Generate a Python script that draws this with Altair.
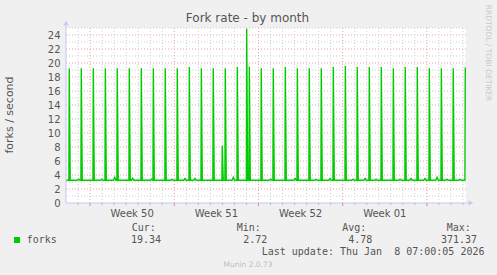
import altair as alt
import pandas as pd

# ---------------- data ----------------
chart_title = "Fork rate - by month"
y_title = "forks / second"
watermark = "RRDTOOL / TOBI OETIKER"
footer = "Munin 2.0.73"
last_update = "Last update: Thu Jan\u00a0\u00a08 07:00:05 2026"

series_name = "forks"
stat_labels = ["Cur:", "Min:", "Avg:", "Max:"]
stat_values = ["19.34", "2.72", "4.78", "371.37"]

# x axis in days since Mon 2025-12-08 00:00 (start of ISO week 50)
x_domain = [-2.0, 31.25]
week_labels = ["Week 50", "Week 51", "Week 52", "Week 01"]
week_label_days = [3.5, 10.5, 17.5, 24.5]
week_start_days = [0, 7, 14, 21, 28]
day_line_days = [-1, 1, 2, 3, 4, 5, 6, 8, 9, 10, 11, 12, 13, 15, 16, 17, 18, 19, 20,
                 22, 23, 24, 25, 26, 27, 29, 30, 31]

y_domain = [0, 25]
y_major = [0, 2, 4, 6, 8, 10, 12, 14, 16, 18, 20, 22, 24]
y_minor = [1, 3, 5, 7, 9, 11, 13, 15, 17, 19, 21, 23, 25]

base_level = 3.25

# daily cron spikes (day offset, forks/s)
spike_days = [-1.73, -0.73, 0.27, 1.27, 2.26, 3.26, 4.26, 5.26, 6.25, 7.25, 8.25, 9.25,
              10.24, 11.24, 12.24, 13.24, 14.23, 15.23, 16.23, 17.23, 18.22, 19.22,
              20.22, 21.22, 22.21, 23.21, 24.21, 25.21, 26.20, 27.20, 28.20, 29.20,
              30.19, 31.19]
spike_values = [19.24, 19.24, 19.24, 19.24, 19.24, 19.24, 19.24, 19.24, 19.24, 19.24,
                19.43, 19.24, 19.24, 19.24, 19.43, 19.47, 19.24, 19.24, 19.43, 19.24,
                19.24, 19.24, 19.43, 19.57, 19.43, 19.43, 19.43, 19.24, 19.43, 19.43,
                19.24, 19.24, 19.24, 19.34]
# irregular extra spikes
extra_days = [10.99, 13.02]
extra_values = [8.19, 24.9]
# small bumps on the baseline
bump_days = [-0.94, 0.97, 2.05, 3.54, 5.12, 6.81, 7.89, 8.72, 11.91, 15.02, 17.04,
             18.78, 19.95, 21.86, 22.86, 23.77, 25.77, 26.68, 27.84, 28.84, 29.67, 30.75]
bump_values = [3.4, 3.4, 3.67, 3.52, 3.4, 3.4, 3.5, 3.5, 3.67, 3.4, 3.5,
               3.4, 3.5, 3.4, 3.5, 3.4, 3.4, 3.5, 3.5, 3.67, 3.4, 3.4]

# ---------------- build line table ----------------
events = []
for d, v in zip(spike_days, spike_values):
    events.append((d, v, "spike"))
for d, v in zip(extra_days, extra_values):
    events.append((d, v, "spike"))
for d, v in zip(bump_days, bump_values):
    events.append((d, v, "bump"))
events.sort()
last_day = max(spike_days)
pts = [(x_domain[0], base_level)]
for d, v, kind in events:
    if kind == "spike":
        pts.append((d - 0.03, base_level))
        pts.append((d, v))
        if d != last_day:
            pts.append((d + 0.08, base_level))
    else:
        pts.append((d - 0.1, base_level))
        pts.append((d, v))
        pts.append((d + 0.1, base_level))
line_df = pd.DataFrame(pts, columns=["day", "rate"])

# ---------------- styling ----------------
W, H = 400, 175
BG = "#f0f0f0"
TXT = "#555555"
GREEN = "#00cc00"
MAJ = "#eba3a3"
MIN = "#d0d0d0"
AXC = "#c5c9f3"
SANS = "DejaVu Sans"
MONO = "DejaVu Sans Mono"

xs = alt.Scale(domain=x_domain, nice=False, zero=False)
ys = alt.Scale(domain=y_domain, nice=False)
y_axis = alt.Axis(values=y_major, grid=False, ticks=False, tickSize=0, domain=False,
                  labelFont=SANS, labelFontSize=10, labelColor=TXT, labelPadding=6,
                  title=None)

def X(field):
    return alt.X(field, type="quantitative", scale=xs, axis=None)

def Y(field):
    return alt.Y(field, type="quantitative", scale=ys, axis=y_axis)

minor_h = alt.Chart(pd.DataFrame({"v": y_minor})).mark_rule(
    color=MIN, strokeDash=[1, 2], strokeWidth=1).encode(y=Y("v"))
major_h = alt.Chart(pd.DataFrame({"v": y_major[1:]})).mark_rule(
    color=MAJ, strokeDash=[1, 2], strokeWidth=1).encode(y=Y("v"))
minor_v = alt.Chart(pd.DataFrame({"d": day_line_days})).mark_rule(
    color=MIN, strokeDash=[1, 2], strokeWidth=1).encode(x=X("d"))
major_v = alt.Chart(pd.DataFrame({"d": week_start_days})).mark_rule(
    color=MAJ, strokeDash=[1, 2], strokeWidth=1).encode(x=X("d"))
minor_tick = alt.Chart(pd.DataFrame({"d": day_line_days})).mark_rule(
    color="#bbbbbb", strokeWidth=1).encode(x=X("d"), y=alt.value(H), y2=alt.value(H + 2))
major_tick = alt.Chart(pd.DataFrame({"d": week_start_days})).mark_rule(
    color="#e88080", strokeWidth=1).encode(x=X("d"), y=alt.value(H), y2=alt.value(H + 3))

line = alt.Chart(line_df).mark_line(color=GREEN, strokeWidth=1.4, clip=True).encode(
    x=X("day"), y=Y("rate"))

one = pd.DataFrame({"k": [0]})
y_axis_line = alt.Chart(one).mark_rule(color=AXC, strokeWidth=1).encode(
    x=alt.value(0), y=alt.value(H), y2=alt.value(-6))
x_axis_line = alt.Chart(one).mark_rule(color=AXC, strokeWidth=1).encode(
    x=alt.value(0), x2=alt.value(W + 4), y=alt.value(H))
arrow_up = alt.Chart(one).mark_point(shape="triangle-up", filled=True, color=AXC,
                                     size=28, opacity=1).encode(
    x=alt.value(0), y=alt.value(-5))
arrow_right = alt.Chart(one).mark_point(shape="triangle-right", filled=True, color=AXC,
                                        size=28, opacity=1).encode(
    x=alt.value(W + 5), y=alt.value(H))

week_text = alt.Chart(pd.DataFrame({"d": week_label_days, "t": week_labels})).mark_text(
    font=SANS, fontSize=10, color=TXT, baseline="alphabetic", align="center").encode(
    x=X("d"), y=alt.value(188.5), text="t:N")

def label(txt, x, y, font=SANS, size=10, color=TXT, align="left", baseline="alphabetic", angle=0):
    return alt.Chart(one).mark_text(font=font, fontSize=size, color=color, align=align,
                                    baseline=baseline, angle=angle).encode(
        x=alt.value(x), y=alt.value(y), text=alt.value(txt))

title_t = label(chart_title, 181.5, -6, size=12, color=TXT, align="center")
ytitle_t = label(y_title, -56, 87, size=11, color=TXT, align="center", baseline="middle", angle=270)
wm_t = label(watermark, 422, 25, size=7.5, color="#c8c8c8", align="center", baseline="middle", angle=90)
footer_t = label(footer, 182, 238.5, size=7.5, color="#bdbdbd", align="center")

stat_label_x = [65.7, 170.7, 276.3, 380.7]
stat_value_x = [65.0, 177.3, 282.3, 375.0]
stat_layers = []
for t, x in zip(stat_labels, stat_label_x):
    stat_layers.append(label(t, x, 203, font=MONO, size=10))
for t, x in zip(stat_values, stat_value_x):
    stat_layers.append(label(t, x, 215, font=MONO, size=10))
name_t = label(series_name, -39.3, 215, font=MONO, size=10)
upd_t = label(last_update, 195.7, 227, font=MONO, size=10)
swatch = alt.Chart(one).mark_square(color=GREEN, size=36, opacity=1).encode(
    x=alt.value(-49), y=alt.value(212))

chart = alt.layer(
    minor_h, major_h, minor_v, major_v, minor_tick, major_tick,
    line, y_axis_line, x_axis_line, arrow_up, arrow_right,
    week_text, title_t, ytitle_t, wm_t, footer_t, name_t, upd_t, swatch, *stat_layers
).properties(
    width=W, height=H, background=BG,
    padding={"left": 66, "top": 28, "right": 31, "bottom": 72},
    autosize=alt.AutoSizeParams(type="none"),
).configure_view(fill="white", stroke=None)

chart.save("out.html", embed_options={"renderer": "svg", "actions": False})
